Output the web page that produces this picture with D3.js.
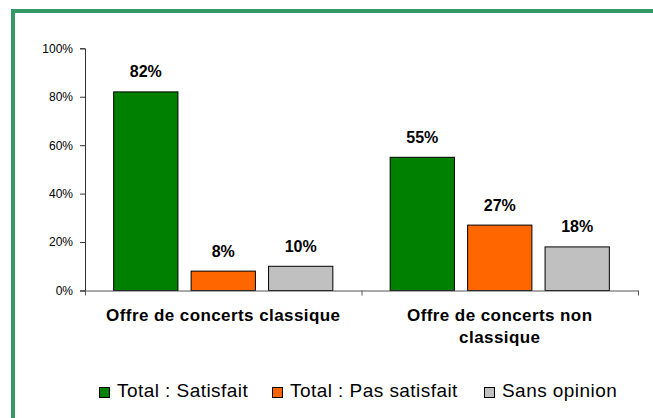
<!DOCTYPE html>
<html><head><meta charset="utf-8">
<script src="https://cdn.jsdelivr.net/npm/d3@7"></script>
<style>body{margin:0;background:#fff}svg{display:block;font-family:"Liberation Sans",Arial,sans-serif}</style>
</head><body><svg id="c" width="653" height="418"></svg>
<script>
const categories = [["Offre de concerts classique"], ["Offre de concerts non", "classique"]];
const seriesNames = ["Total : Satisfait", "Total : Pas satisfait", "Sans opinion"];
const seriesColors = ["#008000", "#FF6600", "#C0C0C0"];
const satisfait = [82, 55];
const pasSatisfait = [8, 27];
const sansOpinion = [10, 18];
const yTicks = [0, 20, 40, 60, 80, 100];

const values = [satisfait, pasSatisfait, sansOpinion];
const svg = d3.select("#c");

// frame
svg.append("rect").attr("x", 13).attr("y", 11).attr("width", 800).attr("height", 600)
  .attr("fill", "none").attr("stroke", "#339966").attr("stroke-width", 4);

const pLeft = 85, pRight = 638, pTop = 48.3, pBottom = 290.5;
const y = d3.scaleLinear().domain([0, 100]).range([pBottom, pTop]);
const x0 = d3.scaleBand().domain(d3.range(categories.length)).range([pLeft, pRight]).padding(0);
const x1 = d3.scaleBand().domain(d3.range(seriesNames.length)).range([0, x0.bandwidth()])
  .paddingInner(0.17).paddingOuter(0.37);

// bars
const g = svg.append("g");
categories.forEach((c, ci) => {
  values.forEach((vals, si) => {
    const v = vals[ci];
    const bx = x0(ci) + x1(si);
    g.append("rect").attr("x", bx).attr("y", y(v)).attr("width", x1.bandwidth()).attr("height", y(0) - y(v))
      .attr("fill", seriesColors[si]).attr("stroke", "#000").attr("stroke-width", 1);
    g.append("text").attr("x", bx + x1.bandwidth() / 2).attr("y", y(v) - 14.5)
      .attr("text-anchor", "middle").attr("font-weight", "bold").attr("font-size", 16)
      .text(v + "%");
  });
});

// y axis
const yAxis = d3.axisLeft(y).tickValues(yTicks).tickFormat(d => d + "%").tickSize(5).tickPadding(7);
const ya = svg.append("g").attr("transform", `translate(${pLeft},0)`).call(yAxis);
ya.select(".domain").attr("stroke", "#333");
ya.selectAll(".tick line").attr("stroke", "#333");
ya.selectAll(".tick text").attr("font-size", 12).attr("fill", "#000").attr("font-family", "Liberation Sans, Arial, sans-serif");

// x axis
const xAxis = d3.axisBottom(d3.scaleLinear().domain([0, categories.length]).range([pLeft, pRight]))
  .tickValues(d3.range(categories.length + 1)).tickFormat("").tickSize(5).tickSizeOuter(0);
const xa = svg.append("g").attr("transform", `translate(0,${pBottom})`).call(xAxis);
xa.select(".domain").attr("stroke", "#555");
xa.selectAll(".tick line").attr("stroke", "#555");

// category labels
categories.forEach((lines, ci) => {
  const cx = x0(ci) + x0.bandwidth() / 2;
  const t = svg.append("text").attr("x", cx).attr("y", 320.5)
    .attr("text-anchor", "middle").attr("font-weight", "bold").attr("font-size", 17).attr("letter-spacing", 0.42);
  lines.forEach((l, li) => t.append("tspan").attr("x", cx).attr("dy", li ? 22.5 : 0).text(l));
});

// legend
const legendX = [99, 272, 484];
seriesNames.forEach((n, i) => {
  svg.append("rect").attr("x", legendX[i] + 0.5).attr("y", 387.5).attr("width", 10).attr("height", 10)
    .attr("fill", seriesColors[i]).attr("stroke", "#000").attr("stroke-width", 1);
  svg.append("text").attr("x", legendX[i] + 18).attr("y", 397).attr("font-size", 19)
    .attr("letter-spacing", 0.45).text(n);
});
</script></body></html>
